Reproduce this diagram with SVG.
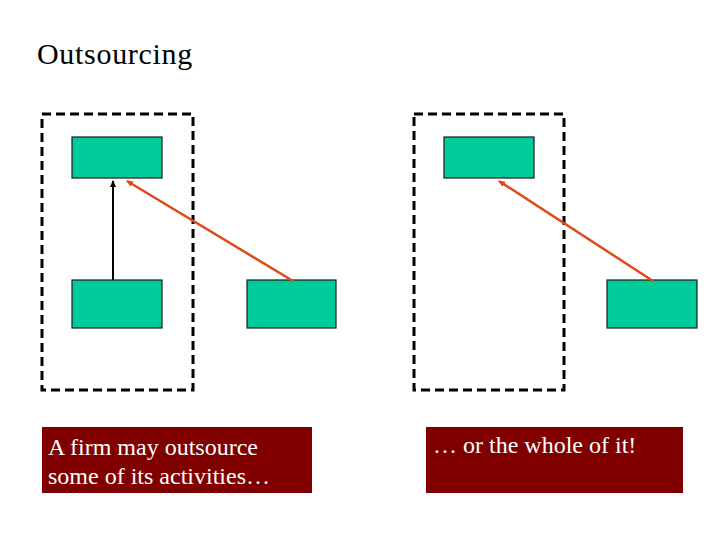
<svg xmlns="http://www.w3.org/2000/svg" width="720" height="540" viewBox="0 0 720 540">
<style>
.t{font-family:"Liberation Serif","Times New Roman",serif}
.box{fill:none;stroke:#000;stroke-width:3;stroke-dasharray:9 5}
.act{fill:#00CC99;stroke:#1a1a1a;stroke-width:1.2}
.note{fill:#800000}
.nt{font-family:"Liberation Serif","Times New Roman",serif;font-size:24px;fill:#fff}
.blk{stroke:#000;stroke-width:2;fill:none}
.org{stroke:#E04A1A;stroke-width:2.5;fill:none}
</style>
<defs>
<marker id="ab" markerWidth="8" markerHeight="8" refX="6" refY="4" orient="auto" markerUnits="userSpaceOnUse"><path d="M0,1 L7,4 L0,7 z" fill="#000"/></marker>
<marker id="ao" markerWidth="8" markerHeight="8" refX="6" refY="4" orient="auto" markerUnits="userSpaceOnUse"><path d="M0,1 L7,4 L0,7 z" fill="#E04A1A"/></marker>
</defs>
<rect width="720" height="540" fill="#fff"/>
<text class="t" x="37" y="64" font-size="30" letter-spacing="0.7">Outsourcing</text>
<g id="firm-left"><rect class="box" x="42" y="114" width="151" height="276"/></g>
<g id="firm-right"><rect class="box" x="414" y="114" width="150" height="276"/></g>
<g id="act-tl"><rect class="act" x="72" y="137" width="90" height="41"/></g>
<g id="act-bl"><rect class="act" x="72" y="280" width="90" height="48"/></g>
<g id="act-rl"><rect class="act" x="247" y="280" width="89" height="48"/></g>
<g id="act-tr"><rect class="act" x="444" y="137" width="90" height="41"/></g>
<g id="act-rr"><rect class="act" x="607" y="280" width="90" height="48"/></g>
<g id="connectors">
<line class="blk" x1="113" y1="280" x2="113" y2="181" marker-end="url(#ab)"/>
<line class="org" x1="293" y1="281" x2="127" y2="181" marker-end="url(#ao)"/>
<line class="org" x1="653" y1="281" x2="499" y2="181" marker-end="url(#ao)"/>
</g>
<g id="note-left"><rect class="note" x="42" y="427" width="270" height="66"/>
<text class="nt" x="48" y="455">A firm may outsource</text>
<text class="nt" x="48" y="484">some of its activities…</text></g>
<g id="note-right"><rect class="note" x="426" y="427" width="257" height="66"/>
<text class="nt" x="433" y="453">… or the whole of it!</text></g>
</svg>
